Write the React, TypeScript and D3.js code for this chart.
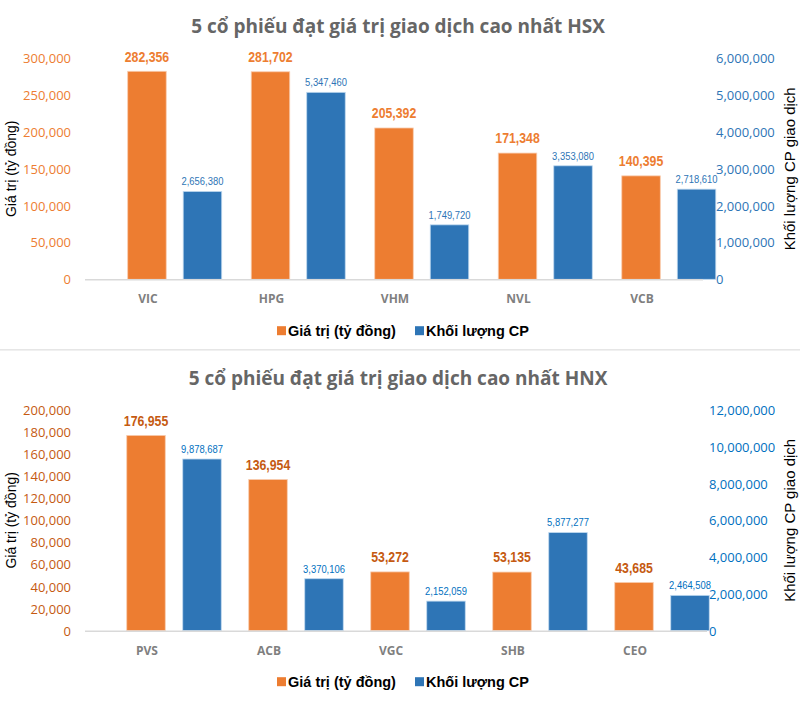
import React from "react";
import * as d3 from "d3";

// ---- Data ----
const hsxCategories = ["VIC", "HPG", "VHM", "NVL", "VCB"];
const hsxValue = [282356, 281702, 205392, 171348, 140395];
const hsxVolume = [2656380, 5347460, 1749720, 3353080, 2718610];
const hsxLeftTicks = [0, 50000, 100000, 150000, 200000, 250000, 300000];
const hsxRightTicks = [0, 1000000, 2000000, 3000000, 4000000, 5000000, 6000000];

const hnxCategories = ["PVS", "ACB", "VGC", "SHB", "CEO"];
const hnxValue = [176955, 136954, 53272, 53135, 43685];
const hnxVolume = [9878687, 3370106, 2152059, 5877277, 2464508];
const hnxLeftTicks = [0, 20000, 40000, 60000, 80000, 100000, 120000, 140000, 160000, 180000, 200000];
const hnxRightTicks = [0, 2000000, 4000000, 6000000, 8000000, 10000000, 12000000];

const seriesNames = ["Giá trị (tỷ đồng)", "Khối lượng CP"];
const leftTitle = "Giá trị (tỷ đồng)";
const rightTitle = "Khối lượng CP giao dịch";

const fmt = d3.format(",");

const ORANGE = "#ED7D31";
const BLUE = "#2E75B6";
const NARROW = 0.82;

type ChartProps = {
  title: string;
  categories: string[];
  values: number[];
  volumes: number[];
  leftTicks: number[];
  rightTicks: number[];
  top: number;
  bottom: number;
  titleY: number;
  xRange: [number, number];
  baselineEnd: number;
  rightLabelX: number;
  blueOffset: number;
  leftColor: string;
  rightColor: string;
  legendY: number;
  catY: number;
};

function Chart(p: ChartProps) {
  const x = d3.scaleBand<string>().domain(p.categories).range(p.xRange).padding(0);
  const yL = d3
    .scaleLinear()
    .domain([0, p.leftTicks[p.leftTicks.length - 1]])
    .range([p.bottom, p.top]);
  const yR = d3
    .scaleLinear()
    .domain([0, p.rightTicks[p.rightTicks.length - 1]])
    .range([p.bottom, p.top]);
  // the volume bars in the reference sit ~10px lower than the secondary axis grid
  const yRBar = d3
    .scaleLinear()
    .domain([0, p.rightTicks[p.rightTicks.length - 1]])
    .range([p.bottom + 10, p.top + 10]);
  const bw = 38.5;
  const mid = (p.top + p.bottom) / 2;

  return (
    <g>
      <text
        x={398}
        y={p.titleY}
        textAnchor="middle"
        dominantBaseline="central"
        fontFamily="'Open Sans', sans-serif"
        fontWeight={700}
        fontSize={19}
        fill="#666666"
      >
        {p.title}
      </text>

      {/* left ticks */}
      {p.leftTicks.map((t) => (
        <text
          key={"l" + t}
          x={71}
          y={yL(t)}
          textAnchor="end"
          dominantBaseline="central"
          fontFamily="'Open Sans', sans-serif"
          fontSize={13}
          fill={p.leftColor}
        >
          {fmt(t)}
        </text>
      ))}
      {/* right ticks */}
      {p.rightTicks.map((t) => (
        <text
          key={"r" + t}
          x={p.rightLabelX}
          y={yR(t)}
          textAnchor="start"
          dominantBaseline="central"
          fontFamily="'Open Sans', sans-serif"
          fontSize={13}
          fill={p.rightColor}
        >
          {fmt(t)}
        </text>
      ))}

      {/* axis titles */}
      <text
        transform={`translate(11,${mid}) rotate(-90)`}
        textAnchor="middle"
        dominantBaseline="central"
        fontFamily="'Liberation Sans', Arial, sans-serif"
        fontSize={14}
        fill="#000"
      >
        {leftTitle}
      </text>
      <text
        transform={`translate(789,${mid}) rotate(-90)`}
        textAnchor="middle"
        dominantBaseline="central"
        fontFamily="'Liberation Sans', Arial, sans-serif"
        fontSize={15}
        fill="#000"
      >
        {rightTitle}
      </text>

      {/* bars */}
      {p.categories.map((c, i) => {
        const cx = (x(c) as number) + x.bandwidth() / 2;
        const vTop = yL(p.values[i]);
        const bx = cx + p.blueOffset;
        const bTop = yRBar(p.volumes[i]);
        return (
          <g key={c}>
            <rect
              x={cx - bw / 2}
              y={vTop}
              width={bw}
              height={p.bottom - vTop}
              fill={ORANGE}
              stroke="#F8CBAD"
              strokeWidth={0.8}
            />
            <rect
              x={bx - bw / 2}
              y={bTop}
              width={bw}
              height={p.bottom - bTop}
              fill={BLUE}
              stroke="#BDD7EE"
              strokeWidth={0.8}
            />
            <text
              transform={`translate(${cx},${vTop - 14.5}) scale(${NARROW},1)`}
              textAnchor="middle"
              dominantBaseline="central"
              fontFamily="'Liberation Sans', Arial, sans-serif"
              fontWeight={700}
              fontSize={15}
              fill={p.leftColor}
            >
              {fmt(p.values[i])}
            </text>
            <text
              transform={`translate(${bx},${bTop - 10.5}) scale(${NARROW},1)`}
              textAnchor="middle"
              dominantBaseline="central"
              fontFamily="'Liberation Sans', Arial, sans-serif"
              fontSize={11.5}
              fill={p.rightColor}
            >
              {fmt(p.volumes[i])}
            </text>
            <text
              x={cx + 1}
              y={p.catY}
              textAnchor="middle"
              dominantBaseline="central"
              fontFamily="'Open Sans', sans-serif"
              fontWeight={700}
              fontSize={12}
              fill="#7F7F7F"
            >
              {c}
            </text>
          </g>
        );
      })}

      {/* baseline */}
      <line
        x1={85}
        x2={p.baselineEnd}
        y1={p.bottom + 0.5}
        y2={p.bottom + 0.5}
        stroke="#D9D9D9"
        strokeWidth={1.5}
      />

      {/* legend */}
      <rect x={277} y={p.legendY - 4.5} width={9} height={9} fill={ORANGE} />
      <text
        x={288}
        y={p.legendY}
        dominantBaseline="central"
        fontFamily="'Liberation Sans', Arial, sans-serif"
        fontWeight={700}
        fontSize={14.5}
        fill="#000"
      >
        {seriesNames[0]}
      </text>
      <rect x={415} y={p.legendY - 4.5} width={9} height={9} fill={BLUE} />
      <text
        x={426}
        y={p.legendY}
        dominantBaseline="central"
        fontFamily="'Liberation Sans', Arial, sans-serif"
        fontWeight={700}
        fontSize={14.5}
        fill="#000"
      >
        {seriesNames[1]}
      </text>
    </g>
  );
}

export default function App() {
  return (
    <svg
      width={800}
      height={727}
      style={{ position: "absolute", left: 0, top: 0, display: "block", background: "#fff" }}
    >
      <rect x={0} y={0} width={800} height={727} fill="#fff" />
      <Chart
        title="5 cổ phiếu đạt giá trị giao dịch cao nhất HSX"
        categories={hsxCategories}
        values={hsxValue}
        volumes={hsxVolume}
        leftTicks={hsxLeftTicks}
        rightTicks={hsxRightTicks}
        top={58.3}
        bottom={279.3}
        titleY={26}
        xRange={[85.2, 702.8]}
        baselineEnd={703}
        rightLabelX={716}
        blueOffset={55.5}
        leftColor={ORANGE}
        rightColor="#2E75B6"
        legendY={330.7}
        catY={298}
      />
      <rect x={0} y={349} width={800} height={1.6} fill="#E6E6E6" />
      <Chart
        title="5 cổ phiếu đạt giá trị giao dịch cao nhất HNX"
        categories={hnxCategories}
        values={hnxValue}
        volumes={hnxVolume}
        leftTicks={hnxLeftTicks}
        rightTicks={hnxRightTicks}
        top={410}
        bottom={630.7}
        titleY={378}
        xRange={[85, 695]}
        baselineEnd={707}
        rightLabelX={709}
        blueOffset={56}
        leftColor="#C55A11"
        rightColor="#0070C0"
        legendY={681.7}
        catY={650}
      />
    </svg>
  );
}
